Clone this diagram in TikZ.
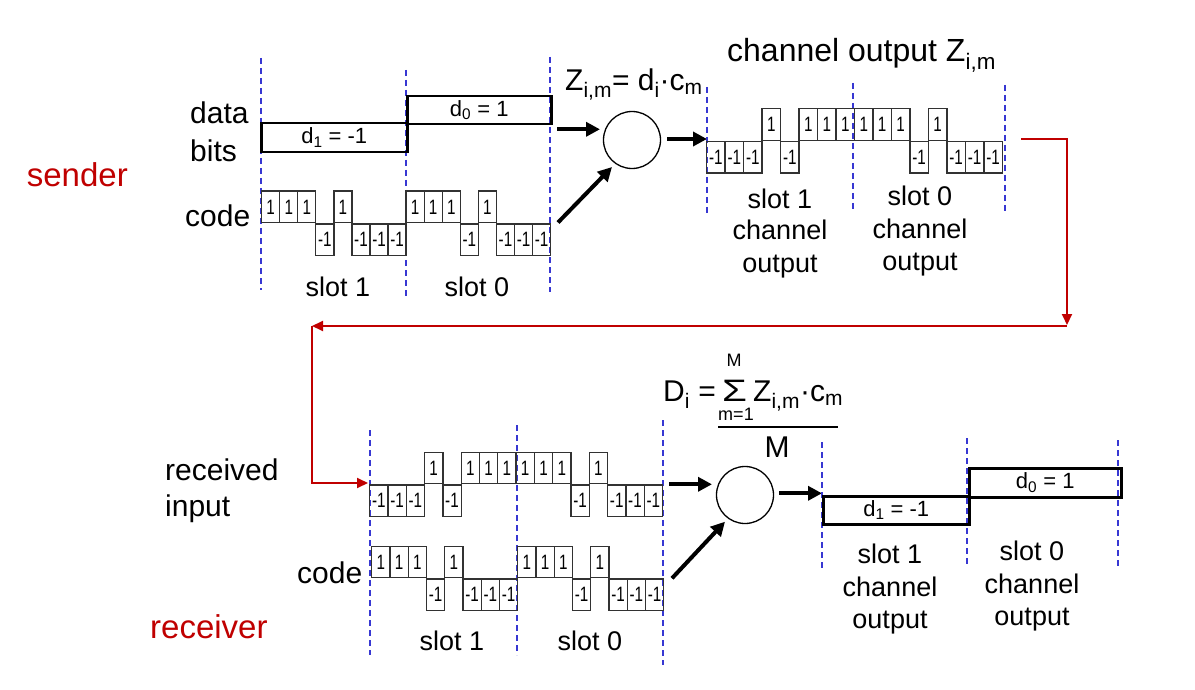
\documentclass[tikz,border=0pt]{standalone}
\usepackage{fontspec}
\usepackage{graphicx}
\setmainfont{Liberation Sans}
\usetikzlibrary{arrows.meta}
\definecolor{dred}{RGB}{192,0,0}
\definecolor{dblue}{RGB}{55,55,210}
\definecolor{chipgray}{RGB}{50,50,50}
\newcommand\chiplab[1]{\scalebox{0.95}[1.3]{#1}}
\newcommand\chipwave[5]{%
  \foreach \v [count=\i from 0] in {#5} {%
    \ifnum\v>0
      \node[chipup=#4] (#1\i) at ({#2+\i*#4},#3) {\chiplab{1}};
    \else
      \node[chipdn=#4] (#1\i) at ({#2+\i*#4},#3) {\chiplab{-1}};
    \fi
  }}
\tikzset{
  lbl/.style={font=\fontsize{30}{34}\selectfont, inner sep=0, anchor=base west},
  slbl/.style={font=\fontsize{27}{31}\selectfont, inner sep=0, anchor=base},
  role/.style={font=\fontsize{33}{38}\selectfont, inner sep=0, anchor=base west, text=dred},
  chipup/.style={draw=chipgray, line width=1.3pt, inner sep=0pt, minimum width=#1, minimum height=31.5pt, anchor=south west, font=\fontsize{16}{16}\selectfont},
  chipdn/.style={chipup=#1, anchor=north west},
  slotline/.style={draw=dblue, line width=1.5pt, dash pattern=on 6pt off 4pt},
  databox/.style={draw=black, line width=2.5pt, inner sep=0pt, anchor=north west, font=\fontsize{22}{24}\selectfont},
  bigarrow/.style={line width=4pt, -{Triangle[length=14pt,width=14pt]}},
  redarrow/.style={draw=dred, line width=2pt, -{Triangle[length=11pt,width=10pt]}},
  summer/.style={circle, draw, line width=1.3pt, minimum size=57pt, inner sep=0pt},
  frm/.style={font=\fontsize{30}{34}\selectfont, inner sep=0, anchor=base west},
  tiny/.style={font=\fontsize{18}{20}\selectfont, inner sep=0, anchor=base},
}
\begin{document}
\begin{tikzpicture}[x=1pt,y=-1pt]
\useasboundingbox[fill=white] (0,0) rectangle (1195,690);

% ---------------- sender ----------------
\node[role] (sender) at (26.7,186.7) {sender};
\node[lbl] (data) at (190,123.3) {data};
\node[lbl] (bits) at (190,161.7) {bits};
\node[lbl] (scode) at (185,226.7) {code};

\draw[slotline] (261,58) -- (261,290);
\draw[slotline] (406,70) -- (406,297);
\draw[slotline] (550,57) -- (550,292);

\node[databox, minimum width=146pt, minimum height=29pt] (d1top) at (260,121.7) {d\textsubscript{1} = -1};
\node[databox, minimum width=144pt, minimum height=28pt] (d0top) at (406,95) {d\textsubscript{0} = 1};

\chipwave{sc}{261}{223.3}{18.06}{1,1,1,-1,1,-1,-1,-1,1,1,1,-1,1,-1,-1,-1}

\node[slbl] (sslot1) at (338,296) {slot 1};
\node[slbl] (sslot0) at (477,296) {slot 0};

\node[frm] (zform) at (565,90.7) {Z\textsubscript{i,m}= d\textsubscript{i}·c\textsubscript{m}};
\node[summer] (mult) at (632,140) {};

\coordinate (a1s) at (557,129.3); \coordinate (a1e) at (600,129.3);
\coordinate (a2s) at (558,222.5); \coordinate (a2e) at (612,167);
\coordinate (a3s) at (667,139); \coordinate (a3e) at (707,139);
\draw[bigarrow] (a1s) -- (a1e);
\draw[bigarrow] (a2s) -- (a2e);
\draw[bigarrow] (a3s) -- (a3e);

% channel output
\node[font=\fontsize{32}{36}\selectfont, inner sep=0, anchor=base west] (chtitle) at (727,62) {channel output Z\textsubscript{i,m}};
\draw[slotline] (707,87) -- (707,213);
\draw[slotline] (853,83) -- (853,212);
\draw[slotline] (1005,85) -- (1005,213);
\chipwave{ch}{706}{141}{18.48}{-1,-1,-1,1,-1,1,1,1,1,1,1,-1,1,-1,-1,-1}
\node[slbl] (cs1a) at (780,208) {slot 1};
\node[slbl] (cs1b) at (780,240) {channel};
\node[slbl] (cs1c) at (780,272) {output};
\node[slbl] (cs0a) at (920,206) {slot 0};
\node[slbl] (cs0b) at (920,238) {channel};
\node[slbl] (cs0c) at (920,270) {output};

% red link
\coordinate (r0) at (1021,139);
\coordinate (r1) at (1067,325);
\coordinate (r2) at (1067,326);
\coordinate (r3) at (312,326);
\coordinate (r4) at (368,483);
\draw[redarrow] (r0) -| (r1);
\draw[redarrow] (r2) -- (r3);
\draw[redarrow] (r3) |- (r4);

% ---------------- receiver ----------------
\node[lbl] (recv) at (165,480) {received};
\node[lbl] (inp) at (165,516.7) {input};
\node[lbl] (rcode) at (297,583) {code};
\node[role] (receiver) at (150,638) {receiver};

\draw[slotline] (370,430) -- (370,655);
\draw[slotline] (517,425) -- (517,655);
\draw[slotline] (663,420) -- (663,665);

\chipwave{rx}{369}{484.3}{18.3}{-1,-1,-1,1,-1,1,1,1,1,1,1,-1,1,-1,-1,-1}
\chipwave{rc}{371}{578.3}{18.25}{1,1,1,-1,1,-1,-1,-1,1,1,1,-1,1,-1,-1,-1}

\node[slbl] (rslot1) at (452,650) {slot 1};
\node[slbl] (rslot0) at (590,650) {slot 0};

% formula
\node[frm] (dform) at (663,401.7) {D\textsubscript{i} =};
\node[font=\fontsize{31}{33}\selectfont, inner sep=0, anchor=base] (sig) at (734.5,401.7) {\scalebox{1.3}[1]{Σ}};
\node[tiny] (supM) at (734,366.7) {M};
\node[tiny] (subm) at (736,420.5) {m=1};
\node[frm] (zc) at (753,401.7) {Z\textsubscript{i,m}·c\textsubscript{m}};
\coordinate (fl) at (718,426.7); \coordinate (fr) at (838,426.7);
\draw[line width=2pt] (fl) -- (fr);
\node[font=\fontsize{30}{32}\selectfont, inner sep=0, anchor=base] (denM) at (777,457.5) {M};

\node[summer] (dec) at (745,495) {};
\coordinate (b1s) at (669,484.3); \coordinate (b1e) at (712,484.3);
\coordinate (b2s) at (672,578.3); \coordinate (b2e) at (725,521.7);
\coordinate (b3s) at (779,493.3); \coordinate (b3e) at (822,493.3);
\draw[bigarrow] (b1s) -- (b1e);
\draw[bigarrow] (b2s) -- (b2e);
\draw[bigarrow] (b3s) -- (b3e);

\draw[slotline] (822,442) -- (822,568);
\draw[slotline] (967,438) -- (967,567);
\draw[slotline] (1118,440) -- (1118,568);
\node[databox, minimum width=146pt, minimum height=28pt] (d1bot) at (822,495) {d\textsubscript{1} = -1};
\node[databox, minimum width=152pt, minimum height=29pt] (d0bot) at (968,467) {d\textsubscript{0} = 1};

\node[slbl] (os1a) at (890,563) {slot 1};
\node[slbl] (os1b) at (890,596) {channel};
\node[slbl] (os1c) at (890,628) {output};
\node[slbl] (os0a) at (1032,560) {slot 0};
\node[slbl] (os0b) at (1032,593) {channel};
\node[slbl] (os0c) at (1032,625) {output};
\end{tikzpicture}
\end{document}
